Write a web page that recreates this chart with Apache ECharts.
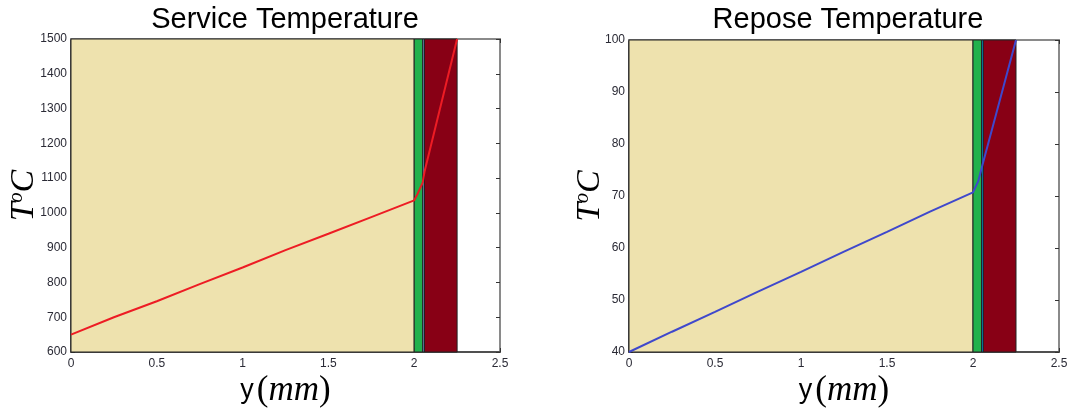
<!DOCTYPE html>
<html>
<head>
<meta charset="utf-8">
<script src="https://cdn.jsdelivr.net/npm/echarts@6/dist/echarts.min.js"></script>
<style>
html,body{margin:0;padding:0;background:#fff;}
#chart{width:1070px;height:409px;}
</style>
</head>
<body>
<div id="chart"></div>
<script>
// ---- Data ----
const titles = ['Service Temperature', 'Repose Temperature'];
const xTicks = [0, 0.5, 1, 1.5, 2, 2.5];
const serviceY = [650, 700, 746, 795, 843, 893, 940, 988, 1036, 1055, 1088, 1118, 1500];
const serviceX = [0, 0.25, 0.5, 0.75, 1, 1.25, 1.5, 1.75, 2.0, 2.02, 2.05, 2.06, 2.25];
const reposeY = [40, 43.9, 47.7, 51.6, 55.4, 59.3, 63.1, 67.0, 70.7, 72.8, 76.6, 100];
const reposeX = [0, 0.25, 0.5, 0.75, 1, 1.25, 1.5, 1.75, 2.0, 2.03, 2.06, 2.25];
// layer bands: [start, end]
const layerStart = [0, 2.0, 2.05, 2.06];
const layerEnd = [2.0, 2.05, 2.06, 2.25];
const serviceLayerColors = ['#EEE2AE', '#22B14C', '#7092BE', '#880015'];
const reposeLayerColors = ['#EEE2AE', '#22B14C', '#00A2E8', '#880015'];
const serviceRange = [600, 1500, 100];
const reposeRange = [40, 100, 10];

const chart = echarts.init(document.getElementById('chart'));

const serifI = 'Liberation Serif';
const yNameRich = {
  t: {fontFamily: serifI, fontStyle: 'italic', fontSize: 34, color: '#000'},
  s: {fontFamily: serifI, fontStyle: 'italic', fontSize: 20, color: '#000', verticalAlign: 'top'}
};
const xNameRich = {
  a: {fontFamily: 'Arial, Liberation Sans', fontSize: 27, color: '#000', padding: [0, 3, 0, 0]},
  p: {fontFamily: serifI, fontSize: 35, color: '#000'},
  b: {fontFamily: serifI, fontStyle: 'italic', fontSize: 35, color: '#000'}
};

const grids = [
  {left: 71, top: 39, width: 429, height: 313, outerBoundsMode: 'none', containLabel: false},
  {left: 629, top: 40, width: 430, height: 312, outerBoundsMode: 'none', containLabel: false}
];

function fmt(v) { return String(v); }

function mkX(gi, pos) {
  const main = pos === 'bottom';
  return {
    type: 'value', gridIndex: gi, position: pos, min: 0, max: 2.5, interval: 0.5,
    axisLine: {show: true, onZero: false, lineStyle: {color: main ? '#505050' : '#8a8a8a', width: 2}},
    axisTick: {show: true, inside: true, length: 4, lineStyle: {color: '#333', width: 1}},
    axisLabel: {show: main, formatter: fmt, fontFamily: 'Arial, Liberation Sans', fontSize: 12, color: '#2a2a35', margin: 6},
    splitLine: {show: false},
    name: main ? '{a|y}{p|(}{b|mm}{p|)}' : '',
    nameLocation: 'middle', nameGap: 21, nameMoveOverlap: false,
    nameTextStyle: {rich: xNameRich}
  };
}
function mkY(gi, pos, r, gap) {
  const main = pos === 'left';
  return {
    type: 'value', gridIndex: gi, position: pos, min: r[0], max: r[1], interval: r[2],
    axisLine: {show: true, onZero: false, lineStyle: {color: main ? '#505050' : '#8a8a8a', width: 2}},
    axisTick: {show: true, inside: true, length: 4, lineStyle: {color: '#333', width: 1}},
    axisLabel: {show: main, formatter: fmt, fontFamily: 'Arial, Liberation Sans', fontSize: 12, color: '#2a2a35', margin: 4},
    splitLine: {show: false},
    name: main ? '{t|T}{s|o}{t|C}' : '',
    nameLocation: 'middle', nameGap: gap, nameRotate: 90, nameMoveOverlap: false,
    nameTextStyle: {rich: yNameRich}
  };
}

function bandSeries(xi, yi, colors, r) {
  const data = layerStart.map((s, i) => [s, layerEnd[i], i]);
  return {
    type: 'custom', xAxisIndex: xi, yAxisIndex: yi, z: 1, silent: true,
    renderItem: function (params, api) {
      const p0 = api.coord([api.value(0), r[1]]);
      const p1 = api.coord([api.value(1), r[0]]);
      return {
        type: 'rect',
        shape: {x: p0[0], y: p0[1], width: p1[0] - p0[0], height: p1[1] - p0[1]},
        style: {fill: colors[api.value(2)], stroke: '#222', lineWidth: 1}
      };
    },
    data: data
  };
}

chart.setOption({
  animation: false,
  backgroundColor: '#ffffff',
  title: [
    {text: titles[0], left: 280, top: 0, textAlign: 'center',
     textStyle: {fontFamily: 'Arial, Liberation Sans', fontSize: 29, fontWeight: 'normal', color: '#000'}},
    {text: titles[1], left: 843, top: 0, textAlign: 'center',
     textStyle: {fontFamily: 'Arial, Liberation Sans', fontSize: 29, fontWeight: 'normal', color: '#000'}}
  ],
  grid: grids,
  xAxis: [mkX(0, 'bottom'), mkX(0, 'top'), mkX(1, 'bottom'), mkX(1, 'top')],
  yAxis: [mkY(0, 'left', serviceRange, 30), mkY(0, 'right', serviceRange, 0),
          mkY(1, 'left', reposeRange, 22), mkY(1, 'right', reposeRange, 0)],
  series: [
    bandSeries(0, 0, serviceLayerColors, serviceRange),
    {
      type: 'line', xAxisIndex: 0, yAxisIndex: 0, z: 5, showSymbol: false, silent: true,
      lineStyle: {color: '#ED1C24', width: 2},
      data: serviceX.map((x, i) => [x, serviceY[i]])
    },
    bandSeries(2, 2, reposeLayerColors, reposeRange),
    {
      type: 'line', xAxisIndex: 2, yAxisIndex: 2, z: 5, showSymbol: false, silent: true,
      lineStyle: {color: '#3F48CC', width: 2},
      data: reposeX.map((x, i) => [x, reposeY[i]])
    }
  ]
});
</script>
</body>
</html>
